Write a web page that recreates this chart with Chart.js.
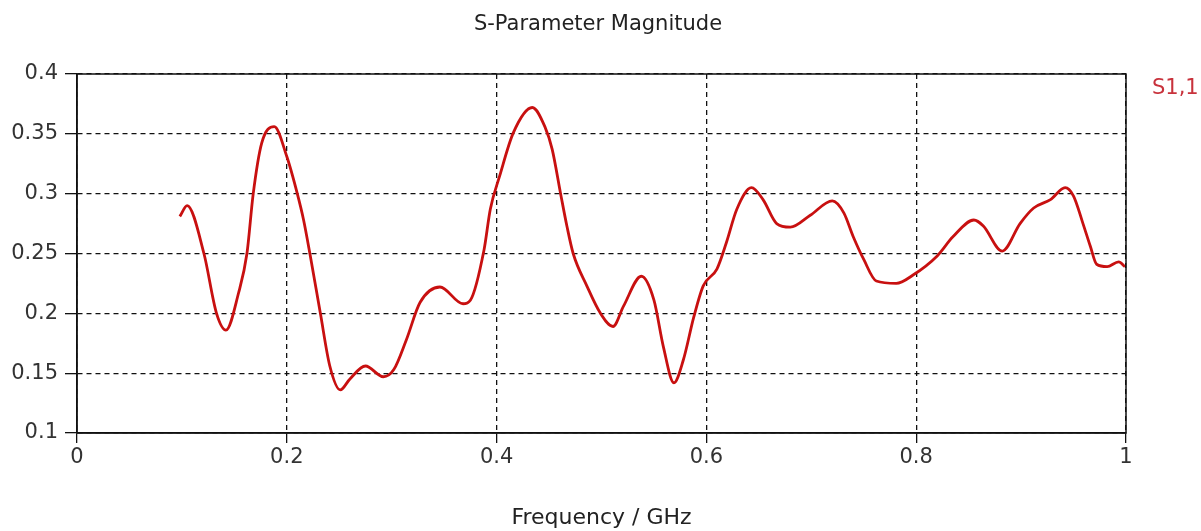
<!DOCTYPE html>
<html>
<head>
<meta charset="utf-8">
<title>S-Parameter Magnitude</title>
<script src="https://cdn.jsdelivr.net/npm/chart.js@4/dist/chart.umd.min.js"></script>
<style>
  body { margin: 0; background: #fff; }
  #wrap { width: 1201px; height: 531px; }
</style>
</head>
<body>
<div id="wrap"><canvas id="myChart" width="1201" height="531"></canvas></div>
<script>
// frequency in GHz
const freqs = [0.098, 0.105, 0.121, 0.133, 0.142, 0.154, 0.162, 0.168, 0.176, 0.188,
  0.200, 0.210, 0.216, 0.222, 0.232, 0.241, 0.251, 0.260, 0.275, 0.292,
  0.302, 0.314, 0.327, 0.346, 0.368, 0.375, 0.388, 0.394, 0.403, 0.416,
  0.434, 0.446, 0.453, 0.461, 0.467, 0.473, 0.486, 0.499, 0.511, 0.521,
  0.538, 0.550, 0.559, 0.569, 0.578, 0.588, 0.597, 0.610, 0.619, 0.629,
  0.643, 0.654, 0.667, 0.680, 0.699, 0.720, 0.731, 0.740, 0.750, 0.762,
  0.781, 0.797, 0.820, 0.835, 0.855, 0.864, 0.882, 0.899, 0.912, 0.928,
  0.942, 0.950, 0.959, 0.966, 0.972, 0.982, 0.993, 0.999];

// |S1,1|
const s11 = [0.281, 0.290, 0.250, 0.200, 0.186, 0.217, 0.250, 0.300, 0.342, 0.356,
  0.331, 0.300, 0.278, 0.250, 0.200, 0.156, 0.136, 0.145, 0.156, 0.147,
  0.153, 0.178, 0.209, 0.222, 0.208, 0.211, 0.253, 0.287, 0.315, 0.351,
  0.372, 0.356, 0.337, 0.300, 0.273, 0.250, 0.223, 0.200, 0.189, 0.206,
  0.231, 0.211, 0.172, 0.142, 0.161, 0.197, 0.223, 0.237, 0.259, 0.287,
  0.305, 0.295, 0.275, 0.272, 0.282, 0.294, 0.284, 0.264, 0.245, 0.227,
  0.225, 0.232, 0.248, 0.264, 0.278, 0.273, 0.252, 0.275, 0.288, 0.295,
  0.305, 0.298, 0.275, 0.256, 0.241, 0.239, 0.243, 0.239];

const xTicks = [0, 0.2, 0.4, 0.6, 0.8, 1];
const xTickLabels = ['0', '0.2', '0.4', '0.6', '0.8', '1'];
const yTicks = [0.1, 0.15, 0.2, 0.25, 0.3, 0.35, 0.4];
const yTickLabels = ['0.1', '0.15', '0.2', '0.25', '0.3', '0.35', '0.4'];

const FONT = 'DejaVu Sans';
const lineColor = '#c81010';

// title, solid frame round the plot and the series label at the right
const framePlugin = {
  id: 'frame',
  afterDraw(chart) {
    const {ctx, chartArea: a} = chart;
    ctx.save();
    ctx.strokeStyle = '#111';
    ctx.lineWidth = 1.5;
    ctx.setLineDash([]);
    ctx.strokeRect(a.left, a.top, a.right - a.left, a.bottom - a.top);

    ctx.textBaseline = 'middle';
    ctx.fillStyle = '#222';
    ctx.font = '21px ' + FONT;
    ctx.textAlign = 'center';
    ctx.fillText('S-Parameter Magnitude', 598, 25);

    ctx.fillStyle = '#c8323c';
    ctx.font = '21px ' + FONT;
    ctx.textAlign = 'left';
    ctx.fillText('S1,1', 1152, 89);
    ctx.restore();
  }
};

const ctx = document.getElementById('myChart').getContext('2d');
const myChart = new Chart(ctx, {
  type: 'line',
  data: {
    datasets: [{
      label: 'S1,1',
      data: freqs.map((f, i) => ({x: f, y: s11[i]})),
      borderColor: lineColor,
      borderWidth: 2.8,
      pointRadius: 0,
      cubicInterpolationMode: 'monotone',
      fill: false
    }]
  },
  options: {
    responsive: false,
    animation: false,
    layout: { padding: { left: 0, right: 75, top: 74, bottom: 0 } },
    plugins: {
      legend: { display: false },
      tooltip: { enabled: false },
      title: { display: false }
    },
    scales: {
      x: {
        type: 'linear',
        min: 0,
        max: 1,
        afterFit: (s) => { s.height = 98; },
        afterBuildTicks: (s) => { s.ticks = xTicks.map(v => ({value: v})); },
        ticks: {
          color: '#333',
          font: { family: FONT, size: 21 },
          padding: 2,
          maxRotation: 0,
          callback: (v, i) => xTickLabels[i]
        },
        grid: {
          color: '#111',
          lineWidth: 1.3,
          tickLength: 10,
          tickColor: '#111',
          tickBorderDash: []
        },
        border: { display: true, color: '#111', width: 1.5, dash: [5, 4] },
        title: {
          display: true,
          text: 'Frequency / GHz',
          color: '#222',
          font: { family: FONT, size: 22, lineHeight: 1.2 },
          padding: { top: 0, bottom: 0 }
        }
      },
      y: {
        type: 'linear',
        min: 0.1,
        max: 0.4,
        afterFit: (s) => { s.width = 77; },
        afterBuildTicks: (s) => { s.ticks = yTicks.map(v => ({value: v})); },
        ticks: {
          color: '#333',
          font: { family: FONT, size: 21 },
          padding: 7,
          callback: (v, i) => yTickLabels[i]
        },
        grid: {
          color: '#111',
          lineWidth: 1.3,
          tickLength: 12,
          tickColor: '#111',
          tickBorderDash: []
        },
        border: { display: true, color: '#111', width: 1.5, dash: [5, 4] }
      }
    }
  },
  plugins: [framePlugin]
});
</script>
</body>
</html>
